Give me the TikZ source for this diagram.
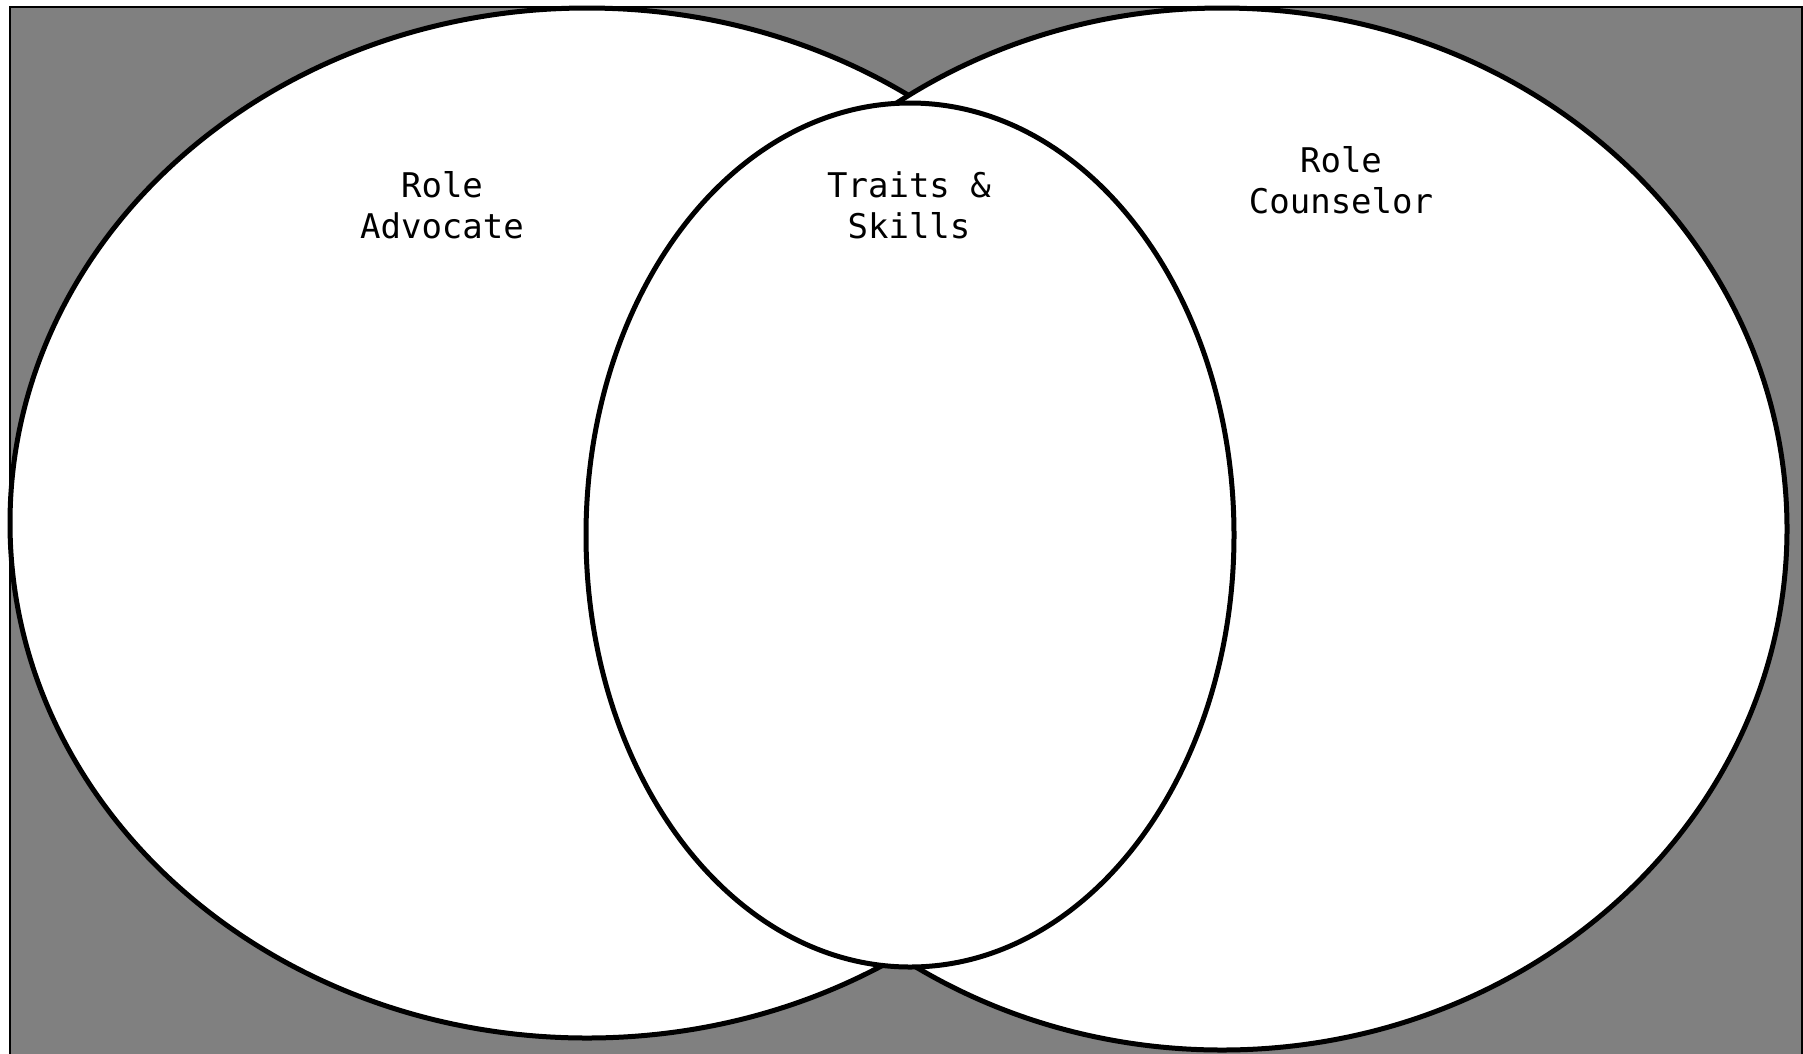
\documentclass[tikz,border=0pt]{standalone}
\usepackage{fontspec}
\newfontfamily\labelfont{DejaVu Sans Mono}
\usetikzlibrary{shapes.geometric}
\definecolor{bggray}{HTML}{808080}
\tikzset{
  venn/.style={ellipse, draw=black, fill=white, line width=5pt, inner sep=0pt, outer sep=0pt},
  lbl/.style={anchor=base, inner sep=0pt, font=\labelfont\fontsize{34}{41}\selectfont, text=black}
}
\begin{document}
\begin{tikzpicture}[x=1pt, y=-1pt]
\useasboundingbox (0,0) rectangle (1803,1053);
\node[draw=black, fill=bggray, line width=2pt, minimum width=1792pt, minimum height=1070pt, anchor=north west, inner sep=0pt] (bg) at (9,6) {};
\node[venn, minimum width=1154pt, minimum height=1030pt] (advocate) at (587,523) {};
\node[venn, minimum width=1130pt, minimum height=1042pt] (counselor) at (1222,529) {};
\node[venn, minimum width=648pt, minimum height=864pt] (traits) at (910,535) {};
\node[lbl] (advA) at (442,197) {Role};
\node[lbl] (advB) at (442,238) {Advocate};
\node[lbl] (trA) at (909,197) {Traits \&};
\node[lbl] (trB) at (909,238) {Skills};
\node[lbl] (coA) at (1341,172) {Role};
\node[lbl] (coB) at (1341,213) {Counselor};
\end{tikzpicture}
\end{document}
